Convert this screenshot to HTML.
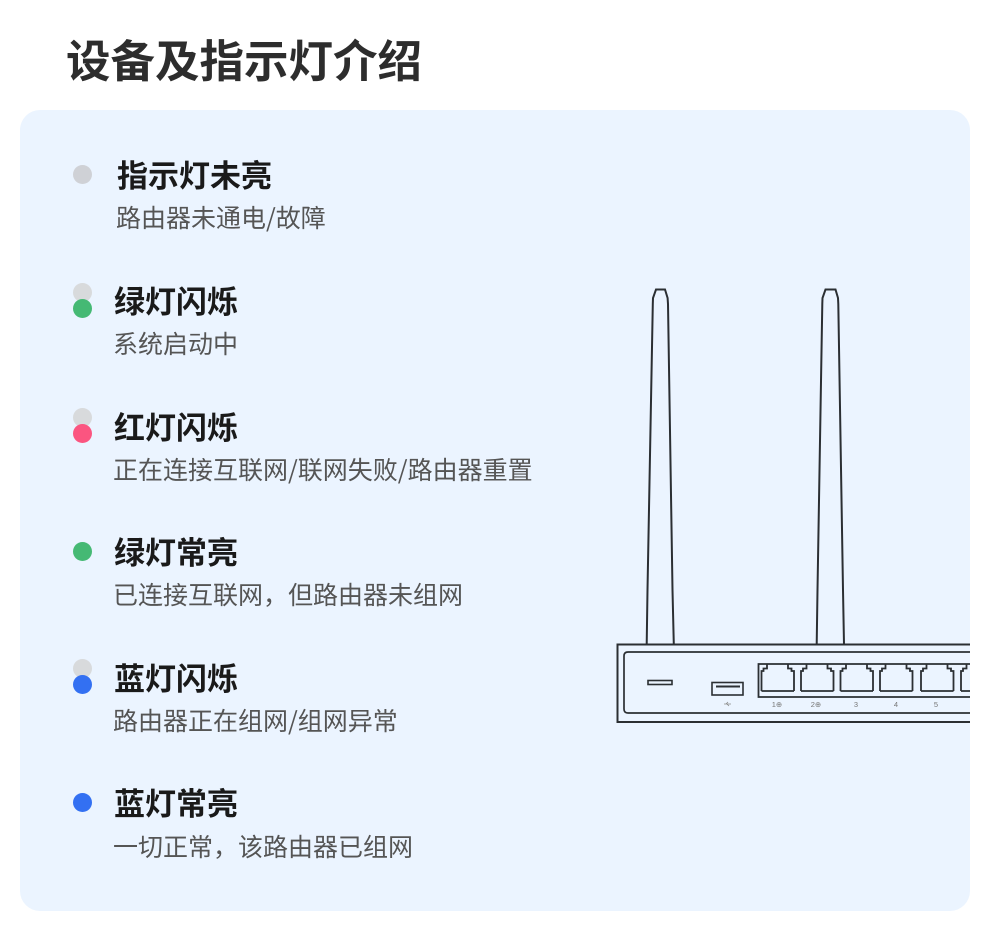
<!DOCTYPE html>
<html lang="zh"><head><meta charset="utf-8"><style>
html,body{margin:0;padding:0;background:#fff}
body{width:990px;height:932px;position:relative;overflow:hidden;font-family:"Noto Sans CJK SC",sans-serif}
.t{position:absolute;white-space:nowrap;line-height:1}
.h{font-size:31px;font-weight:700;color:#1a1a1a}
.s{font-size:25px;color:#555;font-weight:400}
.d{position:absolute;width:19px;height:19px;border-radius:50%}
</style></head><body>
<div style="position:absolute;left:20px;top:110px;width:950px;height:801px;border-radius:20px;background:#ebf4ff"></div>
<div class="t" style="left:66px;top:36px;font-size:44.5px;font-weight:700;color:#2d2d2d">设备及指示灯介绍</div>

<div class="d" style="left:73px;top:165px;background:#cfd1d6"></div>
<div class="t h" style="left:117px;top:158px">指示灯未亮</div>
<div class="t s" style="left:116px;top:205px">路由器未通电/故障</div>

<div class="d" style="left:73px;top:283px;background:#d8dadc"></div>
<div class="d" style="left:73px;top:299px;background:#45b974"></div>
<div class="t h" style="left:114px;top:284px">绿灯闪烁</div>
<div class="t s" style="left:113px;top:331px">系统启动中</div>

<div class="d" style="left:73px;top:408px;background:#d8dadc"></div>
<div class="d" style="left:73px;top:424px;background:#fb5580"></div>
<div class="t h" style="left:114px;top:410px">红灯闪烁</div>
<div class="t s" style="left:113px;top:457px">正在连接互联网/联网失败/路由器重置</div>

<div class="d" style="left:73px;top:542px;background:#45b974"></div>
<div class="t h" style="left:114px;top:535px">绿灯常亮</div>
<div class="t s" style="left:113px;top:582px">已连接互联网，但路由器未组网</div>

<div class="d" style="left:73px;top:659px;background:#d8dadc"></div>
<div class="d" style="left:73px;top:675px;background:#3370f2"></div>
<div class="t h" style="left:114px;top:661px">蓝灯闪烁</div>
<div class="t s" style="left:113px;top:708px">路由器正在组网/组网异常</div>

<div class="d" style="left:73px;top:793px;background:#3370f2"></div>
<div class="t h" style="left:114px;top:786px">蓝灯常亮</div>
<div class="t s" style="left:113px;top:834px">一切正常，该路由器已组网</div>

<svg style="position:absolute;left:0;top:0" width="990" height="932" viewBox="0 0 990 932" fill="none" stroke="#2b2f33" stroke-width="2">
<path d="M646.7 644.5 L647.5 590 L652.8 304 L653 298 L656 289.5 H665 L667.6 298 L668 304 L672.5 590 L673.8 644.5"/>
<path d="M816.7 644.5 L817.5 590 L822.3 304 L822.5 298 L825.5 289.5 H835.5 L838 298 L838.3 304 L843 590 L844 644.5"/>
<path d="M970 644.5 H617.5 V722 H970" stroke-width="2"/>
<path d="M970 652 H628 Q624 652 624 656 V709 Q624 713 628 713 H970" stroke-width="1.7"/>
<rect x="648" y="680.5" width="24" height="4" stroke-width="1.6"/>
<rect x="712" y="682.5" width="31" height="12.5" stroke-width="1.6"/>
<path d="M716 686.5 H740" stroke-width="2"/>
<path d="M970 664 H758.5 V697 H970" stroke-width="1.8"/>
<g stroke-width="1.8">
<path d="M761.5 691 V671 H763.5 V668.5 H767 V664.5 M794 691 V671 H791.5 V668.5 H788 V664.5 M761.5 691 H794"/>
<path d="M801 691 V671 H803 V668.5 H806.5 V664.5 M833.5 691 V671 H831 V668.5 H827.5 V664.5 M801 691 H833.5"/>
<path d="M840.5 691 V671 H842.5 V668.5 H846 V664.5 M873 691 V671 H870.5 V668.5 H867 V664.5 M840.5 691 H873"/>
<path d="M880 691 V671 H882 V668.5 H885.5 V664.5 M912.5 691 V671 H910 V668.5 H906.5 V664.5 M880 691 H912.5"/>
<path d="M921 691 V671 H923 V668.5 H926.5 V664.5 M953.5 691 V671 H951 V668.5 H947.5 V664.5 M921 691 H953.5"/>
<path d="M961 691 V671 H963 V668.5 H966.5 V664.5 M961 691 H970"/>
</g>
<g stroke="#888" stroke-width=".8"><path d="M724 704 H731 M726 704 L728 702 M727 704 L729 706"/></g>
<g fill="#777" stroke="none" font-family="Liberation Sans, sans-serif" font-size="7.5" text-anchor="middle">
<text x="777" y="707">1⊕</text><text x="816" y="707">2⊕</text><text x="856" y="707">3</text><text x="896" y="707">4</text><text x="936" y="707">5</text>
</g>
</svg>
<div style="position:absolute;left:970px;top:100px;width:20px;height:832px;background:#fff"></div>
</body></html>
